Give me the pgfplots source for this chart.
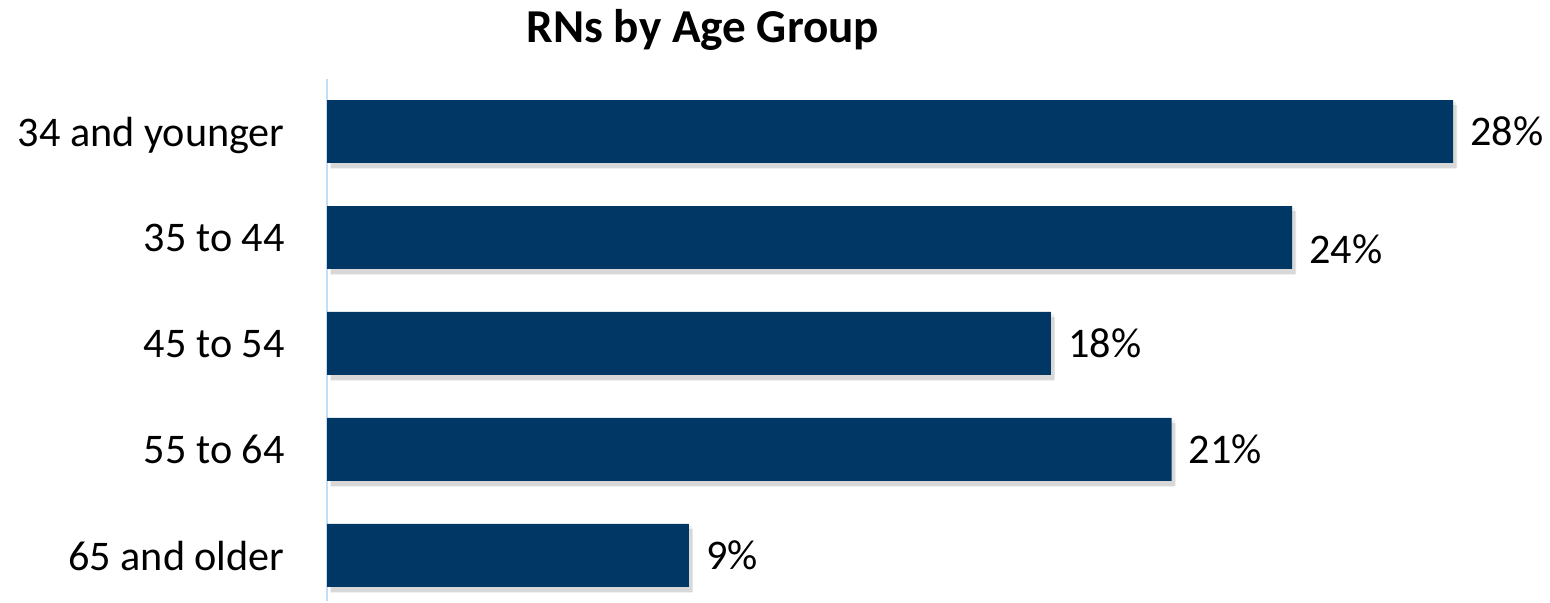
\documentclass[border=0pt]{standalone}
\usepackage{pgfplots}
\pgfplotsset{compat=1.18}
\usepackage{pgfplotstable}
\usepackage{fontspec}
\setmainfont{Carlito}
\definecolor{barblue}{RGB}{0,55,100}
\definecolor{axblue}{RGB}{190,222,250}
\pgfplotstableread{
y x off
0 28 0
1 24 6
2 18 0
3 21 0
4 9 0
}\datatable
\begin{document}
\begin{tikzpicture}[x=0.5pt,y=0.5pt]
\begin{axis}[
  at={(163.5pt,0.5pt)}, anchor=south west,
  scale only axis, width=563pt, height=261.25pt,
  xmin=0, xmax=28,
  ymin=-0.5, ymax=4.43, y dir=reverse,
  axis x line=none, axis y line*=left,
  y axis line style={axblue, line width=1pt, -},
  xtick=\empty,
  ytick={0,1,2,3,4},
  yticklabels={34 and younger, 35 to 44, 45 to 54, 55 to 64, 65 and older},
  major tick length=0pt,
  yticklabel style={font=\fontsize{21.1}{25}\selectfont, anchor=east, inner sep=0pt, text depth=0pt, xshift=-21pt},
  xbar, bar width=0.594, bar shift=0pt,
  clip=false,
  /pgf/number format/assume math mode=true,
]
\addplot[fill=black, opacity=0.06, draw=none, xshift=1.5pt, yshift=-2pt, bar width=0.63] table[x=x, y=y] {\datatable};
\addplot[fill=black, opacity=0.10, draw=none, xshift=2pt, yshift=-2.5pt] table[x=x, y=y] {\datatable};
\addplot[fill=barblue, draw=none,
  point meta=x,
  nodes near coords={\pgfmathprintnumber[assume math mode=true]{\pgfplotspointmeta}\%},
  visualization depends on={\thisrow{off}\as\myoff},
  nodes near coords style={anchor=west, inner sep=0pt, xshift=8.5pt, yshift=-\myoff pt, font=\fontsize{21.1}{25}\selectfont, text=black},
] table[x=x, y=y] {\datatable};
\end{axis}
\node[font=\bfseries\fontsize{23.6}{28}\selectfont, anchor=base] at (703,560) {RNs by Age Group};
\pgfresetboundingbox
\useasboundingbox (0,0) rectangle (1550,602);
\end{tikzpicture}
\end{document}
